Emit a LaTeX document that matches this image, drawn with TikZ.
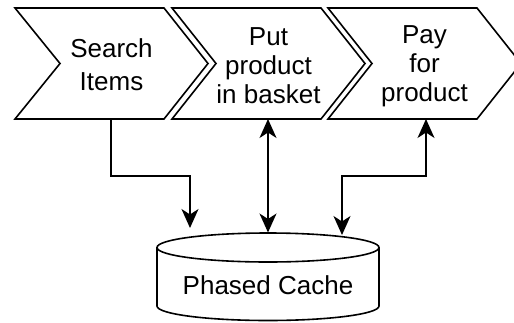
\documentclass[tikz,border=0pt]{standalone}
\usepackage{fontspec}
\setmainfont{Liberation Sans}
\usetikzlibrary{arrows.meta}
\begin{document}
\begin{tikzpicture}[x=1pt,y=-1pt,
  line width=1.6pt,
  chev/.style={draw=black, line join=miter, fill=white},
  lbl/.style={align=center, font=\fontsize{26}{29}\selectfont, inner sep=0pt},
  tip/.tip={Stealth[length=19pt,width=17pt,inset=5.5pt]},
  conn/.style={draw=black, line width=1.6pt, -tip},
  conn2/.style={draw=black, line width=1.6pt, tip-tip}
]
\useasboundingbox (0,0) rectangle (514,322);
\clip (0,0) rectangle (514,322);
% chevrons
\draw[chev] (15,8) -- (164,8) -- (208,63.5) -- (164,119) -- (15,119) -- (60,63.5) -- cycle;
\node[lbl, font=\fontsize{26}{33}\selectfont] (s1) at (111.5,64.5) {Search\\Items};
\draw[chev] (172,8) -- (321,8) -- (365,63.5) -- (321,119) -- (172,119) -- (216,63.5) -- cycle;
\node[lbl] (s2) at (268.5,66) {Put\\product\\in basket};
\draw[chev] (328,8) -- (477,8) -- (521,63.5) -- (477,119) -- (328,119) -- (372,63.5) -- cycle;
\node[lbl] (s3) at (424.5,66) {Pay\\for\\product};
% cylinder
\draw[fill=white] (157,247.5) -- (157,306) arc[start angle=180,end angle=0,x radius=111,y radius=14.5] -- (379,247.5);
\draw (268,247.5) ellipse [x radius=111,y radius=14.5];
\node[lbl] (cache) at (268,285) {Phased Cache};
% anchor coordinates
\coordinate (s1b) at (111,119);
\coordinate (s2b) at (268,119);
\coordinate (s3b) at (426,119);
\coordinate (c1) at (190,228);
\coordinate (c2) at (268,232.5);
\coordinate (c3) at (342,235);
% connectors
\draw[conn] (s1b) -- (111,176) -| (c1);
\draw[conn2] (s2b) -- (c2);
\draw[conn2] (s3b) -- (426,176) -| (c3);
\end{tikzpicture}
\end{document}
